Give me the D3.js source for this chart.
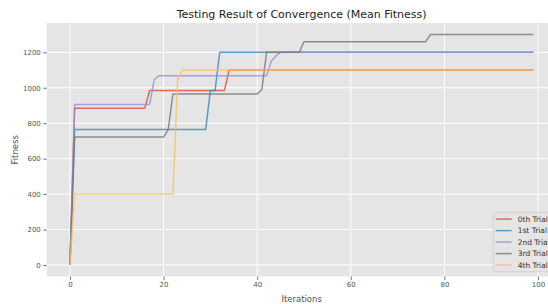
<!DOCTYPE html>
<html>
<head>
<meta charset="utf-8">
<script src="https://cdn.jsdelivr.net/npm/d3@7"></script>
<style>
  body { margin: 0; background: #fff; }
  svg { display: block; font-family: "DejaVu Sans", sans-serif; }
</style>
</head>
<body>
<svg id="chart" width="548" height="304"></svg>
<script>
// iterations 0..99
const iterations = d3.range(0, 100);

const trialNames = ["0th Trial", "1st Trial", "2nd Trial", "3rd Trial", "4th Trial"];
const trialColors = ["#E24A33", "#348ABD", "#988ED5", "#777777", "#FBC15E"];

const trial0 = [
  0, 885, 885, 885, 885, 885, 885, 885, 885, 885, 885, 885, 885, 885, 885, 885, 885, 985, 985, 985,
  985, 985, 985, 985, 985, 985, 985, 985, 985, 985, 985, 985, 985, 985, 1100, 1100, 1100, 1100, 1100, 1100,
  1100, 1100, 1100, 1100, 1100, 1100, 1100, 1100, 1100, 1100, 1100, 1100, 1100, 1100, 1100, 1100, 1100, 1100, 1100, 1100,
  1100, 1100, 1100, 1100, 1100, 1100, 1100, 1100, 1100, 1100, 1100, 1100, 1100, 1100, 1100, 1100, 1100, 1100, 1100, 1100,
  1100, 1100, 1100, 1100, 1100, 1100, 1100, 1100, 1100, 1100, 1100, 1100, 1100, 1100, 1100, 1100, 1100, 1100, 1100, 1100
];
const trial1 = [
  0, 765, 765, 765, 765, 765, 765, 765, 765, 765, 765, 765, 765, 765, 765, 765, 765, 765, 765, 765,
  765, 765, 765, 765, 765, 765, 765, 765, 765, 765, 985, 985, 1200, 1200, 1200, 1200, 1200, 1200, 1200, 1200,
  1200, 1200, 1200, 1200, 1200, 1200, 1200, 1200, 1200, 1200, 1200, 1200, 1200, 1200, 1200, 1200, 1200, 1200, 1200, 1200,
  1200, 1200, 1200, 1200, 1200, 1200, 1200, 1200, 1200, 1200, 1200, 1200, 1200, 1200, 1200, 1200, 1200, 1200, 1200, 1200,
  1200, 1200, 1200, 1200, 1200, 1200, 1200, 1200, 1200, 1200, 1200, 1200, 1200, 1200, 1200, 1200, 1200, 1200, 1200, 1200
];
const trial2 = [
  0, 905, 905, 905, 905, 905, 905, 905, 905, 905, 905, 905, 905, 905, 905, 905, 905, 905, 1045, 1068,
  1068, 1068, 1068, 1068, 1068, 1068, 1068, 1068, 1068, 1068, 1068, 1068, 1068, 1068, 1068, 1068, 1068, 1068, 1068, 1068,
  1068, 1068, 1068, 1150, 1180, 1200, 1200, 1200, 1200, 1200, 1200, 1200, 1200, 1200, 1200, 1200, 1200, 1200, 1200, 1200,
  1200, 1200, 1200, 1200, 1200, 1200, 1200, 1200, 1200, 1200, 1200, 1200, 1200, 1200, 1200, 1200, 1200, 1200, 1200, 1200,
  1200, 1200, 1200, 1200, 1200, 1200, 1200, 1200, 1200, 1200, 1200, 1200, 1200, 1200, 1200, 1200, 1200, 1200, 1200, 1200
];
const trial3 = [
  0, 722, 722, 722, 722, 722, 722, 722, 722, 722, 722, 722, 722, 722, 722, 722, 722, 722, 722, 722,
  722, 765, 965, 965, 965, 965, 965, 965, 965, 965, 965, 965, 965, 965, 965, 965, 965, 965, 965, 965,
  965, 990, 1200, 1200, 1200, 1200, 1200, 1200, 1200, 1200, 1260, 1260, 1260, 1260, 1260, 1260, 1260, 1260, 1260, 1260,
  1260, 1260, 1260, 1260, 1260, 1260, 1260, 1260, 1260, 1260, 1260, 1260, 1260, 1260, 1260, 1260, 1260, 1300, 1300, 1300,
  1300, 1300, 1300, 1300, 1300, 1300, 1300, 1300, 1300, 1300, 1300, 1300, 1300, 1300, 1300, 1300, 1300, 1300, 1300, 1300
];
const trial4 = [
  0, 400, 400, 400, 400, 400, 400, 400, 400, 400, 400, 400, 400, 400, 400, 400, 400, 400, 400, 400,
  400, 400, 400, 1045, 1100, 1100, 1100, 1100, 1100, 1100, 1100, 1100, 1100, 1100, 1100, 1100, 1100, 1100, 1100, 1100,
  1100, 1100, 1100, 1100, 1100, 1100, 1100, 1100, 1100, 1100, 1100, 1100, 1100, 1100, 1100, 1100, 1100, 1100, 1100, 1100,
  1100, 1100, 1100, 1100, 1100, 1100, 1100, 1100, 1100, 1100, 1100, 1100, 1100, 1100, 1100, 1100, 1100, 1100, 1100, 1100,
  1100, 1100, 1100, 1100, 1100, 1100, 1100, 1100, 1100, 1100, 1100, 1100, 1100, 1100, 1100, 1100, 1100, 1100, 1100, 1100
];

const xTicks = [0, 20, 40, 60, 80, 100];
const yTicks = [0, 200, 400, 600, 800, 1000, 1200];

const series = [trial0, trial1, trial2, trial3, trial4];

const svg = d3.select("#chart");

// matplotlib-style 5% margins around the data
const x = d3.scaleLinear().domain([-4.95, 103.95]).range([46.8, 556.5]);
const y = d3.scaleLinear().domain([-65, 1365]).range([276.5, 23.1]);

svg.append("rect")
  .attr("x", x(-4.95))
  .attr("y", y(1365))
  .attr("width", x(103.95) - x(-4.95))
  .attr("height", y(-65) - y(1365))
  .attr("fill", "#E5E5E5");

// grid
svg.append("g")
  .selectAll("line")
  .data(yTicks)
  .join("line")
  .attr("x1", x(-4.95))
  .attr("x2", x(103.95))
  .attr("y1", d => y(d))
  .attr("y2", d => y(d))
  .attr("stroke", "#fff")
  .attr("stroke-width", 1);

svg.append("g")
  .selectAll("line")
  .data(xTicks)
  .join("line")
  .attr("x1", d => x(d))
  .attr("x2", d => x(d))
  .attr("y1", y(1365))
  .attr("y2", y(-65))
  .attr("stroke", "#fff")
  .attr("stroke-width", 1);

const xAxis = g =>
  g
    .attr("transform", `translate(0,${y(-65)})`)
    .call(d3.axisBottom(x).tickValues(xTicks).tickFormat(d3.format("d")).tickSize(3.5).tickPadding(2.5))
    .call(g => g.select(".domain").remove());

const yAxis = g =>
  g
    .attr("transform", `translate(${x(-4.95)},0)`)
    .call(d3.axisLeft(y).tickValues(yTicks).tickFormat(d3.format("d")).tickSize(3.5).tickPadding(2.5))
    .call(g => g.select(".domain").remove());

const styleAxis = g => {
  g.selectAll(".tick line").attr("stroke", "#555").attr("stroke-width", 0.8);
  g.selectAll(".tick text")
    .attr("fill", "#555")
    .style("font-size", "7px")
    .style("font-family", "DejaVu Sans");
};

svg.append("g").call(xAxis).call(styleAxis);
svg.append("g").call(yAxis).call(styleAxis);

const line = d3.line()
  .x((d, i) => x(iterations[i]))
  .y(d => y(d));

svg.append("g")
  .selectAll("path")
  .data(series)
  .join("path")
  .attr("d", line)
  .attr("fill", "none")
  .attr("stroke", (d, i) => trialColors[i])
  .attr("stroke-width", 1.5)
  .attr("stroke-opacity", 0.8)
  .attr("stroke-linejoin", "round");

// title and labels
svg.append("text")
  .attr("x", (x(-4.95) + x(103.95)) / 2)
  .attr("y", 17.5)
  .attr("text-anchor", "middle")
  .attr("fill", "#222")
  .style("font-size", "11px")
  .text("Testing Result of Convergence (Mean Fitness)");

svg.append("text")
  .attr("x", (x(-4.95) + x(103.95)) / 2)
  .attr("y", 302)
  .attr("text-anchor", "middle")
  .attr("fill", "#555")
  .style("font-size", "8.5px")
  .text("Iterations");

svg.append("text")
  .attr("transform", `translate(18,${(y(-65) + y(1365)) / 2}) rotate(-90)`)
  .attr("text-anchor", "middle")
  .attr("fill", "#555")
  .style("font-size", "8.5px")
  .text("Fitness");

// legend
const legend = svg.append("g").attr("transform", "translate(493.3,212.3)");

legend.append("rect")
  .attr("width", 70)
  .attr("height", 59.4)
  .attr("rx", 2)
  .attr("fill", "#E5E5E5")
  .attr("fill-opacity", 0.8)
  .attr("stroke", "#ccc")
  .attr("stroke-width", 0.8);

const item = legend.selectAll("g.item")
  .data(trialNames)
  .join("g")
  .attr("class", "item")
  .attr("transform", (d, i) => `translate(0,${6.8 + i * 11.5})`);

item.append("line")
  .attr("x1", 2.4)
  .attr("x2", 18.4)
  .attr("stroke", (d, i) => trialColors[i])
  .attr("stroke-width", 1.5)
  .attr("stroke-opacity", 0.8);

item.append("text")
  .attr("x", 24.4)
  .attr("dy", "0.35em")
  .attr("fill", "#333")
  .style("font-size", "7.5px")
  .text(d => d);
</script>
</body>
</html>
